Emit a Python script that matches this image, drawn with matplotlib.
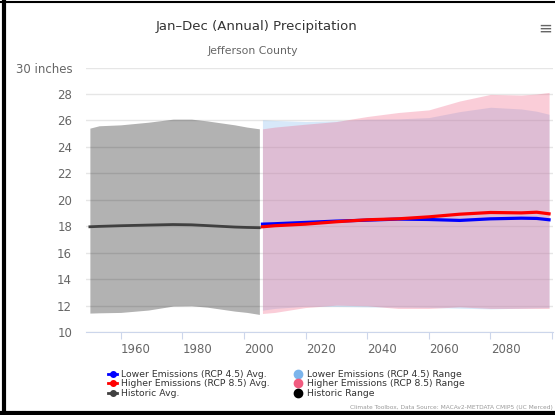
import matplotlib.pyplot as plt
from matplotlib.lines import Line2D
from matplotlib.transforms import ScaledTranslation

# Datos (pulgadas)
hist_years = [1950, 1953, 1960, 1969, 1977, 1983, 1988, 1997, 2001, 2005]
hist_high = [25.42, 25.6, 25.67, 25.87, 26.1, 26.1, 25.97, 25.67, 25.5, 25.37]
hist_low = [11.45, 11.47, 11.5, 11.68, 11.98, 12.0, 11.9, 11.6, 11.5, 11.35]
hist_avg = [17.97, 18.0, 18.05, 18.1, 18.14, 18.12, 18.06, 17.95, 17.92, 17.9]

fut_years = [2006, 2010, 2020, 2030, 2040, 2050, 2060, 2070, 2080, 2090, 2095, 2099]
rcp45_high = [26.05, 26.0, 25.92, 25.97, 26.1, 26.12, 26.22, 26.67, 27.0, 26.87, 26.7, 26.47]
rcp45_low = [11.67, 11.8, 11.97, 11.95, 11.92, 11.9, 11.88, 11.82, 11.77, 11.82, 11.85, 11.87]
rcp45_avg = [18.17, 18.2, 18.3, 18.4, 18.47, 18.55, 18.52, 18.45, 18.57, 18.62, 18.6, 18.5]
rcp85_high = [25.37, 25.5, 25.72, 25.92, 26.3, 26.6, 26.8, 27.47, 27.97, 27.92, 28.0, 28.12]
rcp85_low = [11.42, 11.5, 11.87, 12.05, 12.0, 11.8, 11.8, 11.92, 11.8, 11.8, 11.8, 11.8]
rcp85_avg = [17.97, 18.05, 18.17, 18.35, 18.5, 18.57, 18.72, 18.92, 19.05, 19.02, 19.07, 18.95]

x_ticks = [1960, 1980, 2000, 2020, 2040, 2060, 2080, 2100]
x_labels = ["1960", "1980", "2000", "2020", "2040", "2060", "2080", ""]
y_ticks = [10, 12, 14, 16, 18, 20, 22, 24, 26, 28, 30]
y_labels = ["10", "12", "14", "16", "18", "20", "22", "24", "26", "28", "30 inches"]

blue_fill = "#7cb5ec"
pink_fill = "#f15c80"

fig = plt.figure(figsize=(5.55, 4.15), dpi=100)
ax = fig.add_axes([0.155, 0.1993, 0.8415, 0.638])

# Rangos
ax.fill_between(hist_years, hist_low, hist_high, color="black", alpha=0.3, lw=0, zorder=2)
ax.fill_between(fut_years, rcp45_low, rcp45_high, color=blue_fill, alpha=0.3, lw=0, zorder=2)
ax.fill_between(fut_years, rcp85_low, rcp85_high, color=pink_fill, alpha=0.3, lw=0, zorder=2)

# Promedios
ax.plot(hist_years, hist_avg, color="#404040", lw=2, zorder=4)
ax.plot(fut_years, rcp45_avg, color="#0000ff", lw=2.3, zorder=4)
ax.plot(fut_years, rcp85_avg, color="#ff0000", lw=2.3, zorder=5)

ax.set_xlim(1948.75, 2100.3)
ax.set_ylim(10, 30)
ax.set_yticks(y_ticks)
ax.set_yticklabels(y_labels)
ax.set_xticks(x_ticks)
ax.set_xticklabels(x_labels)
ax.grid(axis="y", color="#e6e6e6", lw=1, zorder=1)
ax.set_axisbelow(True)
for s in ["top", "right", "left"]:
    ax.spines[s].set_visible(False)
ax.spines["bottom"].set_color("#ccd6eb")
ax.tick_params(axis="y", length=0, pad=10, labelsize=8.5, labelcolor="#666666")
ax.tick_params(axis="x", length=5, color="#ccd6eb", pad=3, labelsize=8.5, labelcolor="#666666")
offset = ScaledTranslation(0.15, 0, fig.dpi_scale_trans)
for lab in ax.get_xticklabels():
    lab.set_transform(lab.get_transform() + offset)

fig.text(0.463, 0.935, "Jan–Dec (Annual) Precipitation", ha="center", va="center",
         fontsize=9.5, color="#333333")
fig.text(0.455, 0.877, "Jefferson County", ha="center", va="center",
         fontsize=7.8, color="#666666")
fig.text(0.982, 0.932, "≡", ha="center", va="center", fontsize=12, color="#666666")

handles = [
    Line2D([], [], color="#0000ff", lw=2, marker="o", markersize=4),
    Line2D([], [], color="#ff0000", lw=2, marker="o", markersize=4),
    Line2D([], [], color="#404040", lw=2, marker="o", markersize=4),
    Line2D([], [], color=blue_fill, lw=0, marker="o", markersize=6),
    Line2D([], [], color=pink_fill, lw=0, marker="o", markersize=6),
    Line2D([], [], color="black", lw=0, marker="o", markersize=6),
]
names = ["Lower Emissions (RCP 4.5) Avg.", "Higher Emissions (RCP 8.5) Avg.", "Historic Avg.",
         "Lower Emissions (RCP 4.5) Range", "Higher Emissions (RCP 8.5) Range", "Historic Range"]
fig.legend(handles, names, ncol=2, loc="upper left", bbox_to_anchor=(0.179, 0.129),
           frameon=False, fontsize=6.7, handlelength=1.05, handletextpad=0.4,
           labelspacing=0.06, columnspacing=2.5, labelcolor="#333333")

fig.text(0.997, 0.019, "Climate Toolbox, Data Source: MACAv2-METDATA CMIP5 (UC Merced)",
         ha="right", va="center", fontsize=4.2, color="#999999")

# Borde negro
fig.add_artist(Line2D([0.007, 0.007], [0, 1], color="black", lw=3, transform=fig.transFigure))
fig.add_artist(Line2D([0, 1], [0.995, 0.995], color="black", lw=1.5, transform=fig.transFigure))
fig.add_artist(Line2D([0, 1], [0.004, 0.004], color="black", lw=3, transform=fig.transFigure))

fig.savefig("out.png", dpi=100)
